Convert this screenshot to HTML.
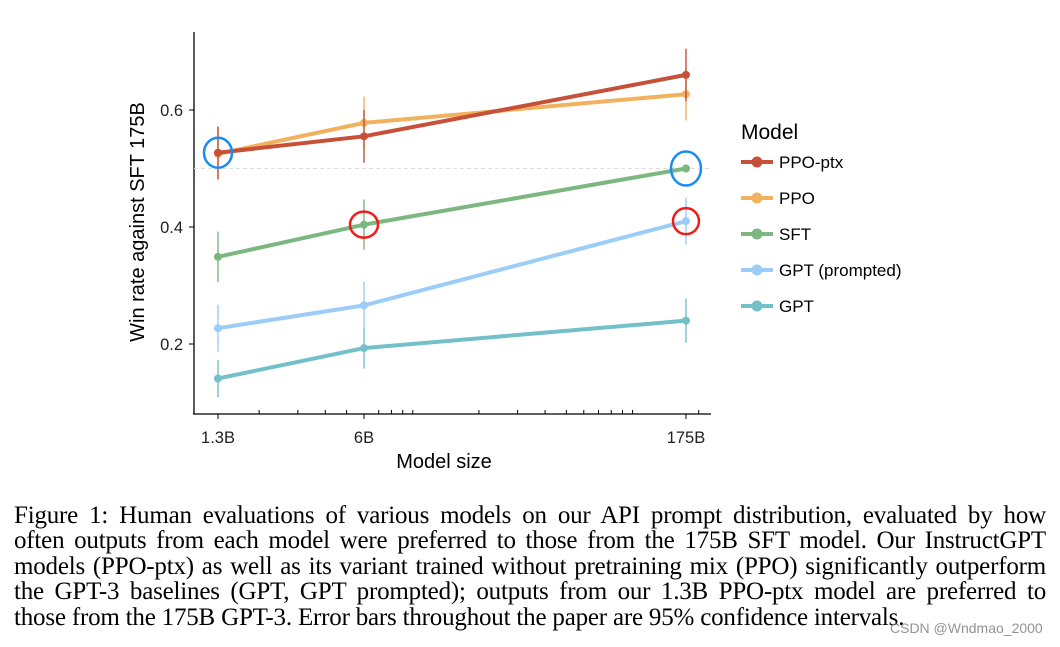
<!DOCTYPE html>
<html><head><meta charset="utf-8"><style>
body{margin:0;width:1060px;height:647px;background:#fff;overflow:hidden;position:relative;font-family:"Liberation Sans",sans-serif}
svg{position:absolute;left:0;top:0}
.cap{position:absolute;left:14px;width:1032px;font-family:"Liberation Serif",serif;font-size:25px;color:#000;white-space:nowrap;text-align:justify;text-align-last:justify;line-height:26px;letter-spacing:-0.2px}
.wm{position:absolute;left:890px;top:620px;font-size:14px;color:rgba(120,120,120,0.8)}
</style></head><body>
<svg id="chart" width="1060" height="480"></svg>
<div class="cap" style="top:503px">Figure 1: Human evaluations of various models on our API prompt distribution, evaluated by how</div>
<div class="cap" style="top:528px">often outputs from each model were preferred to those from the 175B SFT model. Our InstructGPT</div>
<div class="cap" style="top:554px">models (PPO-ptx) as well as its variant trained without pretraining mix (PPO) significantly outperform</div>
<div class="cap" style="top:579px">the GPT-3 baselines (GPT, GPT prompted); outputs from our 1.3B PPO-ptx model are preferred to</div>
<div class="cap" style="top:605px;text-align-last:left;width:auto">those from the 175B GPT-3. Error bars throughout the paper are 95% confidence intervals.</div>
<div class="wm">CSDN @Wndmao_2000</div>
<script>
const sizes=[1.3,6,175];
const sizeLabels=["1.3B","6B","175B"];
const seriesNames=["PPO-ptx","PPO","SFT","GPT (prompted)","GPT"];
const seriesColors=["#c65038","#f2b15c","#7bb77f","#9cccf8","#73c0cb"];
const ppoPtx=[0.527,0.555,0.660];
const ppo=[0.525,0.578,0.627];
const sft=[0.349,0.404,0.500];
const gptPrompted=[0.227,0.266,0.410];
const gpt=[0.141,0.193,0.240];
const errPpoPtx=[0.045,0.045,0.045];
const errPpo=[0.045,0.045,0.045];
const errSft=[0.043,0.043,0];
const errGptPrompted=[0.04,0.04,0.04];
const errGpt=[0.032,0.035,0.038];
const yTicks=[0.2,0.4,0.6];
const minorTicks=[2,3,4,5,7,8,9,10,20,30,40,50,60,70,80,90,100,200];

const NS="http://www.w3.org/2000/svg";
const svg=document.getElementById('chart');
const X=v=>218+(Math.log10(v)-Math.log10(1.3))*219.8;
const Y=v=>110+(0.6-v)*585;
function el(t,a,p){const e=document.createElementNS(NS,t);for(const k in a)e.setAttribute(k,a[k]);(p||svg).appendChild(e);return e;}
function txt(s,a){const e=el('text',a);e.textContent=s;return e;}

const ax=el('g',{});


el('line',{x1:194,y1:32,x2:194,y2:414,stroke:'#000','stroke-width':1.3},ax);
el('line',{x1:193,y1:414,x2:711,y2:414,stroke:'#000','stroke-width':1.3},ax);
el('line',{x1:194,y1:Y(0.5),x2:711,y2:Y(0.5),stroke:'#ddd','stroke-width':1,'stroke-dasharray':'4,3'},ax);
yTicks.forEach(t=>{
  el('line',{x1:189,y1:Y(t),x2:194,y2:Y(t),stroke:'#000'},ax);
  const l=txt(t.toFixed(1),{x:183,y:Y(t)+6,'text-anchor':'end','font-size':16.5,fill:'#222'});
  
  
});
minorTicks.forEach(m=>{el('line',{x1:X(m),y1:410,x2:X(m),y2:414,stroke:'#000'},ax);});
sizes.forEach((s,i)=>{
  el('line',{x1:X(s),y1:414,x2:X(s),y2:419,stroke:'#000'},ax);
  const l=txt(sizeLabels[i],{x:X(s),y:443,'text-anchor':'middle','font-size':16.5,fill:'#222'});
  
  
});
const xt=txt('Model size',{x:444,y:468,'text-anchor':'middle','font-size':20,fill:'#000'});


const yt=txt('Win rate against SFT 175B',{x:0,y:0,'text-anchor':'middle','font-size':20,fill:'#000',transform:'translate(144,222) rotate(-90)'});



const data=[ppoPtx,ppo,sft,gptPrompted,gpt];
const errs=[errPpoPtx,errPpo,errSft,errGptPrompted,errGpt];
[4,3,2,1,0].forEach(k=>{
  const g=el('g',{});
  
  
  const c=seriesColors[k];
  data[k].forEach((v,i)=>{if(errs[k][i]>0)el('line',{x1:X(sizes[i]),x2:X(sizes[i]),y1:Y(v-errs[k][i]),y2:Y(v+errs[k][i]),stroke:c,'stroke-width':1.4},g);});
  el('polyline',{points:data[k].map((v,i)=>X(sizes[i])+','+Y(v)).join(' '),fill:'none',stroke:c,'stroke-width':4},g);
  data[k].forEach((v,i)=>{
    const p=el('circle',{cx:X(sizes[i]),cy:Y(v),r:4,fill:c},g);
    
    
  });
});
const ann=el('g',{fill:'none','stroke-width':2.5});


el('ellipse',{cx:X(1.3),cy:Y(0.527),rx:14,ry:15,stroke:'#1a8cf0'},ann);
el('ellipse',{cx:X(175),cy:Y(0.5),rx:15,ry:17,stroke:'#1a8cf0'},ann);
el('ellipse',{cx:X(6),cy:Y(0.404),rx:14,ry:13,stroke:'#f01c1c'},ann);
el('ellipse',{cx:X(175),cy:Y(0.410),rx:13,ry:13,stroke:'#f01c1c'},ann);

const lg=el('g',{});


const lt=txt('Model',{x:741,y:139,'font-size':21,fill:'#000'},lg);


seriesNames.forEach((n,i)=>{
  const y=162+i*36;
  const e=el('g',{},lg);
  
  
  el('line',{x1:741,x2:773,y1:y,y2:y,stroke:seriesColors[i],'stroke-width':4},e);
  el('circle',{cx:757,cy:y,r:5.5,fill:seriesColors[i]},e);
  const t=document.createElementNS(NS,'text');
  t.setAttribute('x',779);t.setAttribute('y',y+6);t.setAttribute('font-size',17);
  t.textContent=n;e.appendChild(t);
});
</script>
</body></html>
